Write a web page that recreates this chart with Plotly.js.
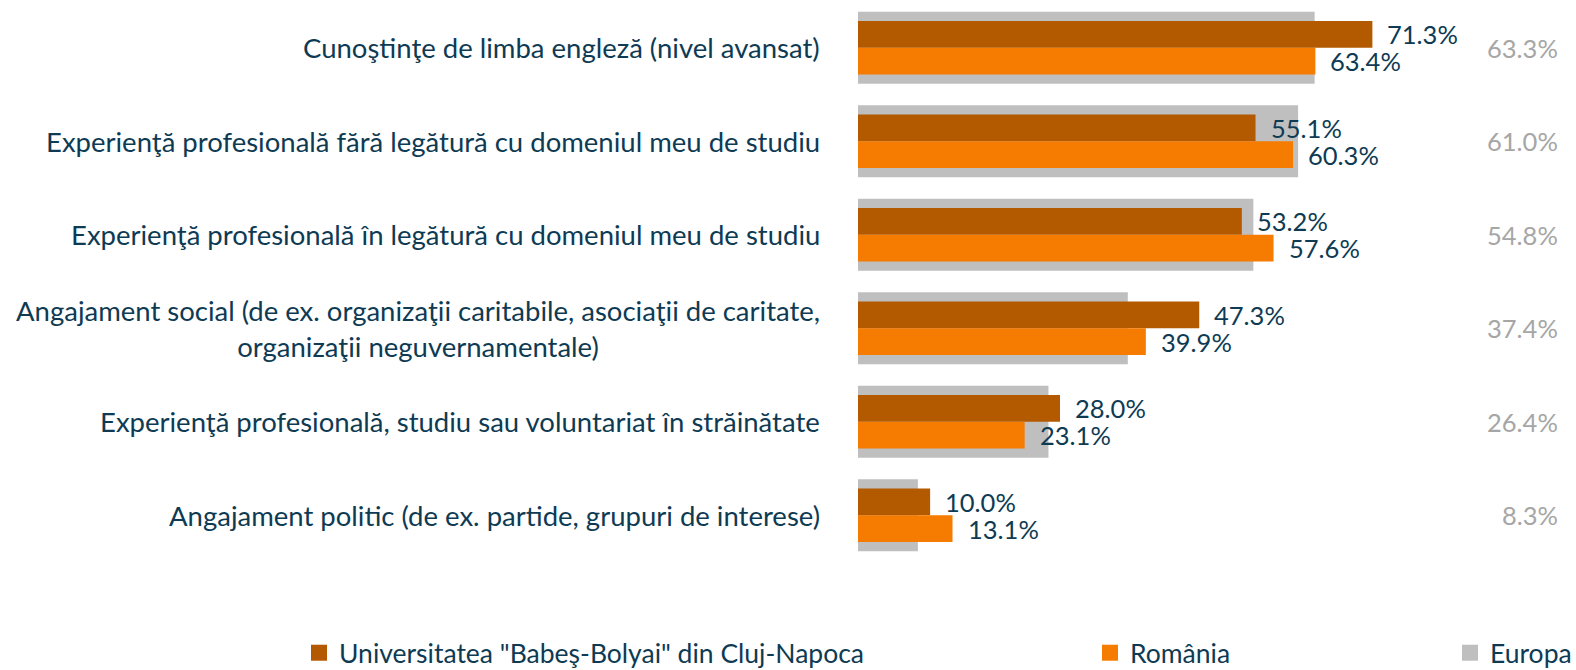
<!DOCTYPE html>
<html>
<head>
<meta charset="utf-8">
<script src="https://cdn.plot.ly/plotly-3.0.1.min.js"></script>
<style>html,body{margin:0;padding:0;background:#fff;}#chart{width:1576px;height:670px;}</style>
</head>
<body>
<div id="chart"></div>
<script>
const categories = [
  "Cunoştinţe de limba engleză (nivel avansat)",
  "Experienţă profesională fără legătură cu domeniul meu de studiu",
  "Experienţă profesională în legătură cu domeniul meu de studiu",
  "Angajament social (de ex. organizaţii caritabile, asociaţii de caritate,<br>organizaţii neguvernamentale)",
  "Experienţă profesională, studiu sau voluntariat în străinătate",
  "Angajament politic (de ex. partide, grupuri de interese)"
];
const seriesNames = ['Universitatea "Babeş-Bolyai" din Cluj-Napoca', "România", "Europa"];
const ubb = [71.3, 55.1, 53.2, 47.3, 28.0, 10.0];
const romania = [63.4, 60.3, 57.6, 39.9, 23.1, 13.1];
const europa = [63.3, 61.0, 54.8, 37.4, 26.4, 8.3];

const FONT = "Lato, 'Open Sans', sans-serif";
const TXT = "#0e3b53";
const fsCat = 27.5, fsNum = 25.5, fsLeg = 26.5;
const rowPx = 93.5;
const colors = ["#b35a00", "#f57c00", "#bfbfbf"];

const traces = [
  {type: "bar", orientation: "h", name: seriesNames[2], y: categories, x: europa,
   marker: {color: colors[2]}, width: 0.77, offset: -0.385, showlegend: false, hoverinfo: "x"},
  {type: "bar", orientation: "h", name: seriesNames[0], y: categories, x: ubb,
   marker: {color: colors[0]}, width: 0.285, offset: -0.285, showlegend: false, hoverinfo: "x"},
  {type: "bar", orientation: "h", name: seriesNames[1], y: categories, x: romania,
   marker: {color: colors[1]}, width: 0.285, offset: 0, showlegend: false, hoverinfo: "x"}
];
// legend entries (square markers like the reference)
["legend", "legend2", "legend3"].forEach((lg, i) => {
  traces.push({type: "scatter", mode: "markers", name: seriesNames[i], x: [null], y: [null],
    marker: {symbol: "square", size: 17, color: colors[i]}, legend: lg, hoverinfo: "skip"});
});

const annotations = [];
categories.forEach((c, i) => {
  annotations.push({xref: "paper", x: 0, xanchor: "right", xshift: -36, yref: "y", y: c,
    text: c, showarrow: false, align: "center", font: {family: FONT, size: fsCat, color: TXT}});
  annotations.push({xref: "x", x: ubb[i], xanchor: "left", xshift: 13, yref: "y", y: c,
    yshift: 0.145 * rowPx, text: ubb[i].toFixed(1) + "%", showarrow: false,
    font: {family: FONT, size: fsNum, color: TXT}});
  annotations.push({xref: "x", x: romania[i], xanchor: "left", xshift: 13, yref: "y", y: c,
    yshift: -0.145 * rowPx, text: romania[i].toFixed(1) + "%", showarrow: false,
    font: {family: FONT, size: fsNum, color: TXT}});
  annotations.push({xref: "x", x: 97.3, xanchor: "right", yref: "y", y: c,
    text: europa[i].toFixed(1) + "%", showarrow: false,
    font: {family: FONT, size: fsNum, color: "#a6a6a6"}});
});

const legBase = {orientation: "h", xref: "container", yref: "container", y: 17 / 670, yanchor: "middle",
  xanchor: "left", itemsizing: "trace", font: {family: FONT, size: fsLeg, color: TXT}, bgcolor: "rgba(0,0,0,0)"};

const layout = {
  width: 1576, height: 670,
  margin: {l: 858, r: 11, t: 1, b: 108},
  paper_bgcolor: "#fff", plot_bgcolor: "#fff",
  barmode: "overlay",
  showlegend: true,
  xaxis: {range: [0, 98], showgrid: false, zeroline: false, showticklabels: false, showline: false, ticks: "", fixedrange: true},
  yaxis: {type: "category", autorange: "reversed", showgrid: false, zeroline: false, showticklabels: false, showline: false, ticks: "", fixedrange: true},
  legend: Object.assign({}, legBase, {x: 299 / 1576}),
  legend2: Object.assign({}, legBase, {x: 1090 / 1576}),
  legend3: Object.assign({}, legBase, {x: 1450 / 1576}),
  annotations: annotations,
  font: {family: FONT, color: TXT}
};

Plotly.newPlot("chart", traces, layout, {displayModeBar: false, staticPlot: true});
</script>
</body>
</html>
